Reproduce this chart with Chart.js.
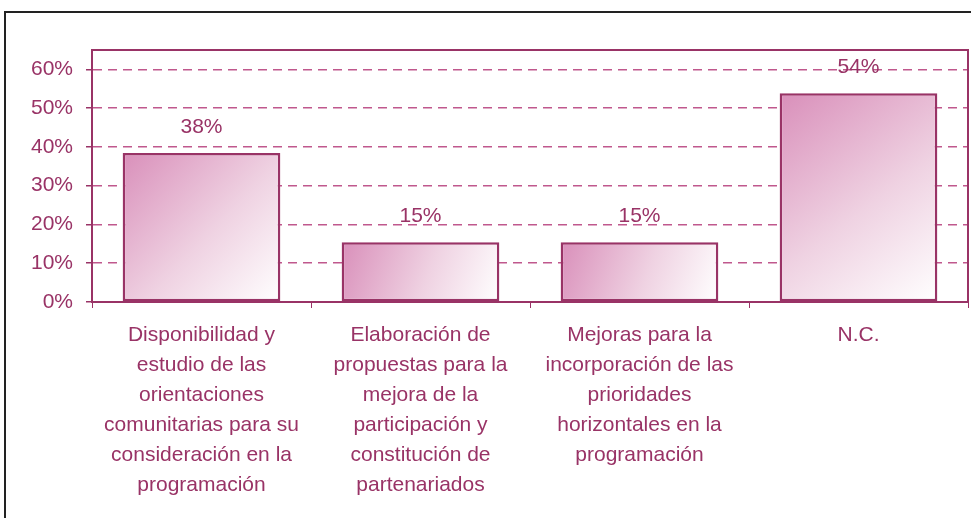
<!DOCTYPE html>
<html>
<head>
<meta charset="utf-8">
<script src="https://cdn.jsdelivr.net/npm/chart.js@4.4.1/dist/chart.umd.min.js"></script>
<style>
  body { margin: 0; background: #fff; overflow: hidden; }
  #wrap { position: relative; width: 971px; height: 518px; }
  #frame { position: absolute; left: 4px; top: 11px; width: 1000px; height: 600px;
           border-left: 2px solid #222; border-top: 2px solid #222; }
  canvas { position: absolute; left: 0; top: 0; }
</style>
</head>
<body>
<div id="wrap">
  <div id="frame"></div>
  <canvas id="myChart" width="971" height="518"></canvas>
</div>
<script>
// categories (multi-line labels as shown under each bar)
const categories = [
  ['Disponibilidad y', 'estudio de las', 'orientaciones', 'comunitarias para su', 'consideración en la', 'programación'],
  ['Elaboración de', 'propuestas para la', 'mejora de la', 'participación y', 'constitución de', 'partenariados'],
  ['Mejoras para la', 'incorporación de las', 'prioridades', 'horizontales en la', 'programación'],
  ['N.C.']
];
// percentages (5/13, 2/13, 2/13, 7/13)
const values = [38.46, 15.38, 15.38, 53.85];
const yTicks = [0, 10, 20, 30, 40, 50, 60];

const plum = '#993366';
const fontFam = '"Liberation Sans", Arial, sans-serif';
const barPct = 0.72;

// diagonal gradient for each bar, built from the scales
function barFill(c) {
  var chart = c.chart;
  var xs = chart.scales.x, ys = chart.scales.y;
  if (!chart.chartArea || !xs || !ys || c.dataIndex === undefined) return '#e6b3cf';
  var i = c.dataIndex;
  var cx = xs.getPixelForValue(i);
  var w = (xs.width / categories.length) * barPct;
  var top = ys.getPixelForValue(values[i]);
  var base = ys.getPixelForValue(0);
  var g = chart.ctx.createLinearGradient(cx - w / 2, top, cx + w / 2, base);
  g.addColorStop(0, '#d98fba');
  g.addColorStop(0.55, '#efd2e2');
  g.addColorStop(1, '#ffffff');
  return g;
}

// frame round the plot area and value labels
const barDecor = {
  id: 'barDecor',
  afterDatasetsDraw(chart) {
    var ctx = chart.ctx;
    var a = chart.chartArea;
    ctx.save();
    ctx.strokeStyle = plum;
    ctx.lineWidth = 2;
    ctx.strokeRect(a.left, a.top, a.right - a.left, a.bottom - a.top);
    ctx.fillStyle = plum;
    ctx.font = '21px ' + fontFam;
    ctx.textAlign = 'center';
    ctx.textBaseline = 'middle';
    chart.getDatasetMeta(0).data.forEach((bar, i) => {
      ctx.fillText(Math.round(values[i]) + '%', bar.x, bar.y - 26);
    });
    ctx.restore();
  }
};

var ctx = document.getElementById('myChart').getContext('2d');
var myChart = new Chart(ctx, {
  type: 'bar',
  data: {
    labels: categories,
    datasets: [{
      data: values,
      backgroundColor: barFill,
      borderColor: plum,
      borderWidth: 2.5,
      borderSkipped: false,
      categoryPercentage: 1,
      barPercentage: barPct
    }]
  },
  options: {
    responsive: false,
    animation: false,
    layout: { padding: { top: 50, right: 3, left: 0, bottom: 0 } },
    plugins: { legend: { display: false }, tooltip: { enabled: false } },
    scales: {
      x: {
        afterFit: s => { s.height = 216; },
        grid: { display: true, drawOnChartArea: false, drawTicks: true, tickLength: 6,
                color: plum, lineWidth: 1, offset: true },
        border: { display: true, color: plum, width: 2 },
        ticks: { color: plum, padding: 12, maxRotation: 0, autoSkip: false,
                 font: { family: fontFam, size: 21, lineHeight: 1.43 } }
      },
      y: {
        min: 0,
        max: 65,
        afterFit: s => { s.width = 92; },
        afterBuildTicks: s => { s.ticks = yTicks.map(v => ({ value: v })); },
        grid: { color: '#c0588d', lineWidth: 1.5,
                tickLength: 6, tickBorderDash: [], tickColor: plum },
        border: { display: true, color: plum, width: 2, dash: [9, 6] },
        ticks: { color: plum, padding: 13, callback: v => v + '%',
                 font: { family: fontFam, size: 21 } }
      }
    }
  },
  plugins: [barDecor]
});
</script>
</body>
</html>
